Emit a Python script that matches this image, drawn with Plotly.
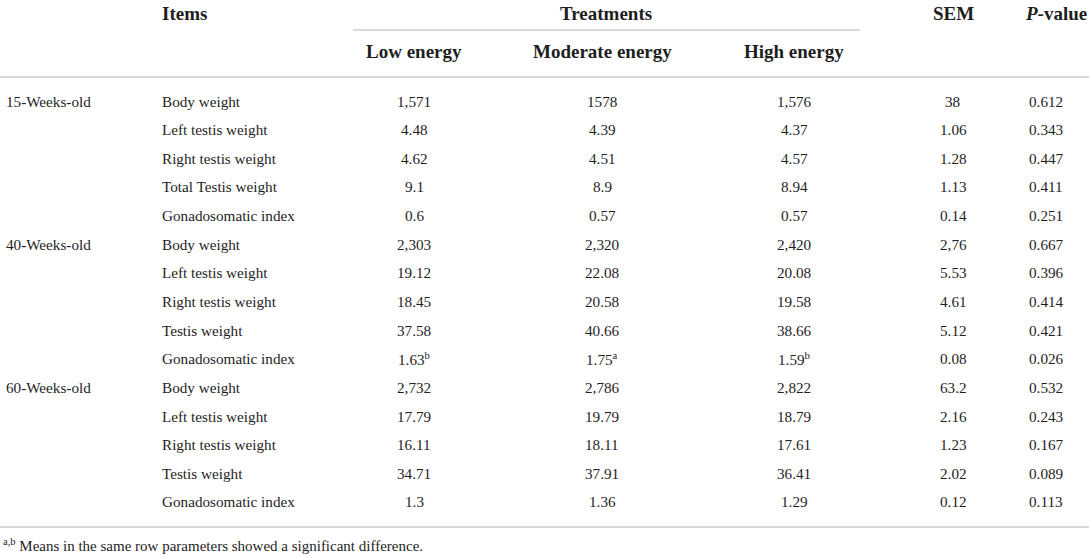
import plotly.graph_objects as go

# table content
groups = ["15-Weeks-old", "40-Weeks-old", "60-Weeks-old"]
items = [
    "Body weight", "Left testis weight", "Right testis weight", "Total Testis weight", "Gonadosomatic index",
    "Body weight", "Left testis weight", "Right testis weight", "Testis weight", "Gonadosomatic index",
    "Body weight", "Left testis weight", "Right testis weight", "Testis weight", "Gonadosomatic index",
]
low_energy = ["1,571", "4.48", "4.62", "9.1", "0.6",
              "2,303", "19.12", "18.45", "37.58", "1.63<sup>b</sup>",
              "2,732", "17.79", "16.11", "34.71", "1.3"]
moderate_energy = ["1578", "4.39", "4.51", "8.9", "0.57",
                   "2,320", "22.08", "20.58", "40.66", "1.75<sup>a</sup>",
                   "2,786", "19.79", "18.11", "37.91", "1.36"]
high_energy = ["1,576", "4.37", "4.57", "8.94", "0.57",
               "2,420", "20.08", "19.58", "38.66", "1.59<sup>b</sup>",
               "2,822", "18.79", "17.61", "36.41", "1.29"]
sem = ["38", "1.06", "1.28", "1.13", "0.14",
       "2,76", "5.53", "4.61", "5.12", "0.08",
       "63.2", "2.16", "1.23", "2.02", "0.12"]
p_value = ["0.612", "0.343", "0.447", "0.411", "0.251",
           "0.667", "0.396", "0.414", "0.421", "0.026",
           "0.532", "0.243", "0.167", "0.089", "0.113"]
treatments = ["Low energy", "Moderate energy", "High energy"]
footnote = "<sup>a,b</sup> Means in the same row parameters showed a significant difference."

W, H = 1089, 558
FONT = "Liberation Serif"
TXT = "#1e1e1e"
LINE = "#cccccc"

# column centres / left edges in px
x_group = 4
x_item = 160
x_cols = [414, 602, 794, 953, 1046]
row0, row_h = 101, 28.64

fig = go.Figure()
fig.add_trace(go.Scatter(x=[0, W], y=[0, H], mode="markers",
                         marker=dict(opacity=0), hoverinfo="skip", showlegend=False))

def txt(x, y, s, anchor="center", size=15.2, bold=False):
    fig.add_annotation(x=x, y=y, xref="x", yref="y", text=f"<b>{s}</b>" if bold else s,
                       showarrow=False, xanchor=anchor, yanchor="middle",
                       font=dict(family=FONT, size=size, color=TXT))

# header
txt(x_item, 13, "Items", "left", 19, True)
txt(606, 13, "Treatments", "center", 19, True)
txt(x_cols[3], 13, "SEM", "center", 19, True)
txt(x_cols[4] + 10, 13, "<i>P</i>-value", "center", 19, True)
for xc, t in zip(x_cols[:3], treatments):
    txt(xc, 51, t, "center", 19, True)

# body
for i in range(len(items)):
    y = row0 + i * row_h
    if i % 5 == 0:
        txt(x_group, y, groups[i // 5], "left")
    txt(x_item, y, items[i], "left")
    for xc, col in zip(x_cols, [low_energy, moderate_energy, high_energy, sem, p_value]):
        txt(xc, y, col[i])

txt(1, 545, footnote, "left", 15)

# rules
fig.add_shape(type="line", x0=353, x1=860, y0=30, y1=30, line=dict(color=LINE, width=1.5))
fig.add_shape(type="line", x0=0, x1=W, y0=77, y1=77, line=dict(color=LINE, width=1.5))
fig.add_shape(type="line", x0=0, x1=W, y0=527, y1=527, line=dict(color=LINE, width=1.5))

fig.update_xaxes(range=[0, W], visible=False, fixedrange=True)
fig.update_yaxes(range=[H, 0], visible=False, fixedrange=True)
fig.update_layout(width=W, height=H, margin=dict(l=0, r=0, t=0, b=0),
                  plot_bgcolor="white", paper_bgcolor="white")

fig.write_html("out.html", config={"displayModeBar": False},
               post_script="document.body.style.margin='0';")
